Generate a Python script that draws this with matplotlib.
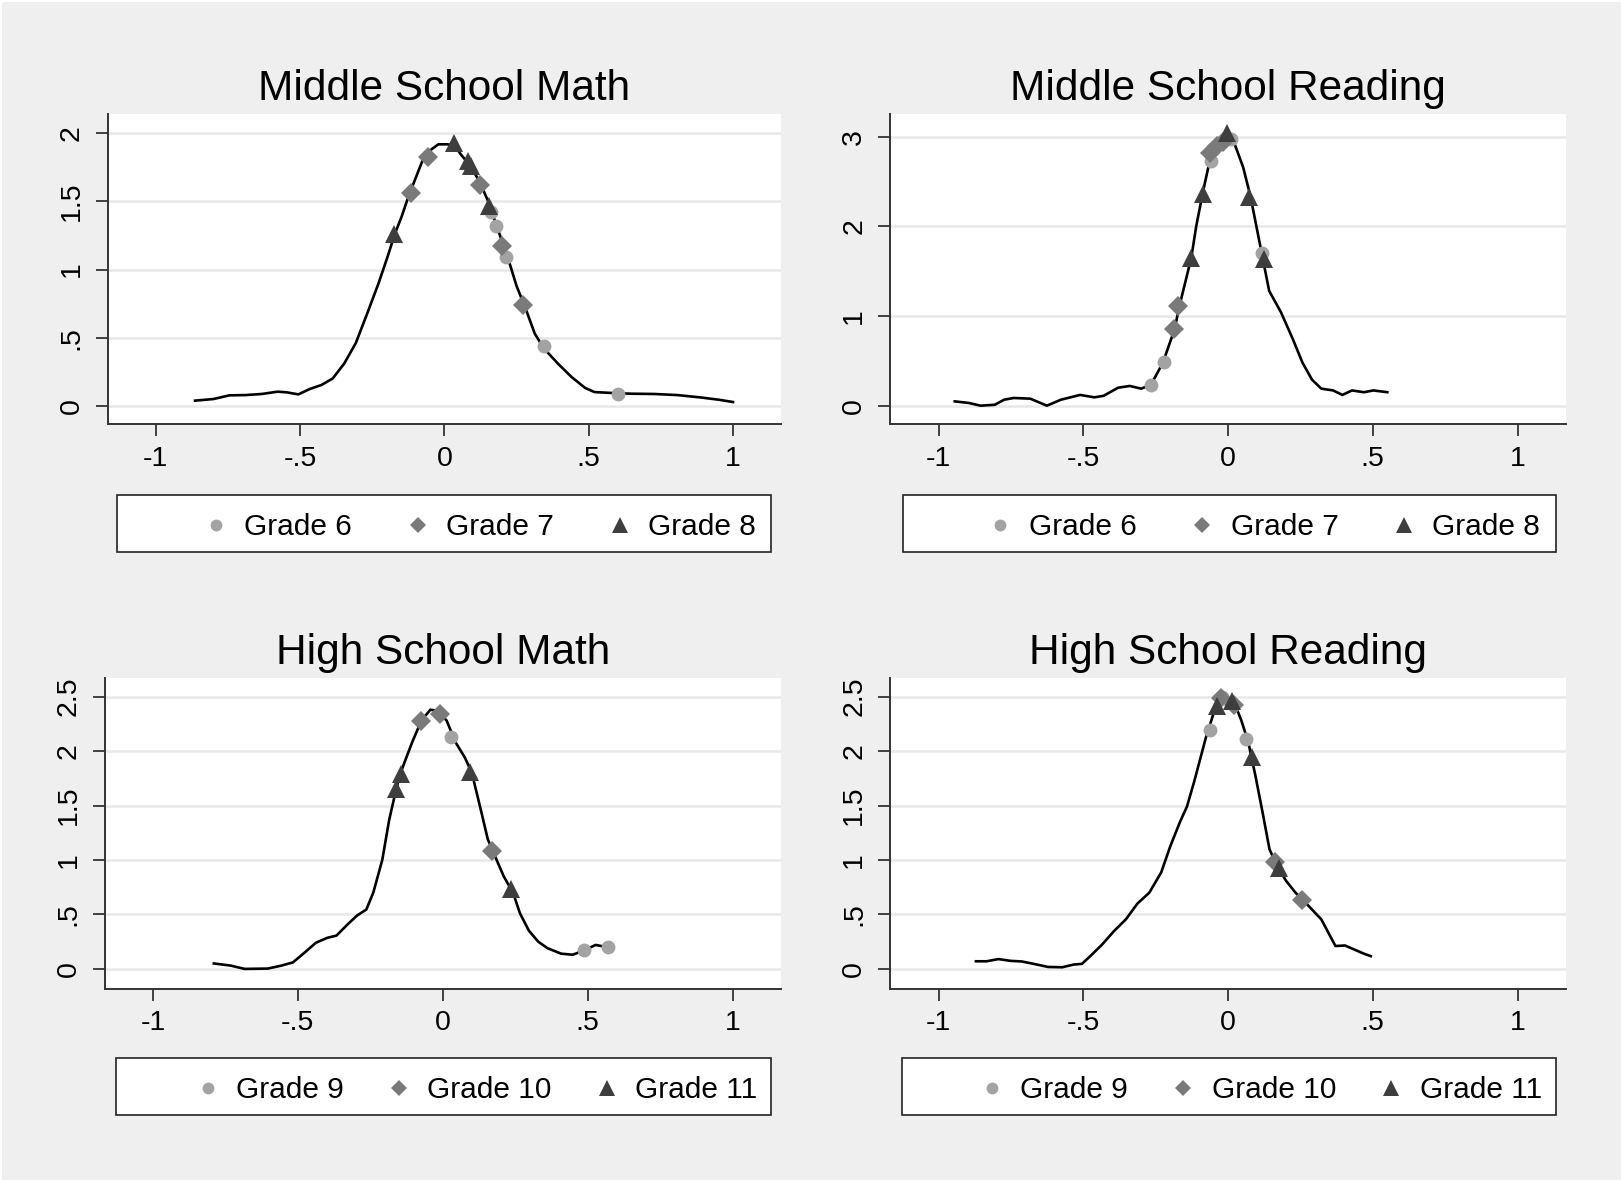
import matplotlib.pyplot as plt
from matplotlib.lines import Line2D
from matplotlib.patches import Rectangle

plt.rcParams["font.family"] = ["Liberation Sans", "DejaVu Sans"]

# --- Middle School Math (density curve + grade markers) ---
msm_x = [-0.864, -0.80, -0.745, -0.689, -0.633, -0.578, -0.546, -0.506, -0.466, -0.426,
         -0.387, -0.347, -0.307, -0.267, -0.228, -0.196, -0.172, -0.148, -0.124, -0.10,
         -0.076, -0.053, -0.021, 0.011, 0.035, 0.059, 0.091, 0.123, 0.154, 0.186,
         0.218, 0.25, 0.282, 0.313, 0.345, 0.393, 0.441, 0.488, 0.52, 0.584,
         0.648, 0.727, 0.807, 0.886, 0.95, 1.0]
msm_y = [0.037, 0.049, 0.076, 0.078, 0.086, 0.103, 0.098, 0.083, 0.123, 0.152,
         0.20, 0.31, 0.46, 0.68, 0.90, 1.10, 1.26, 1.39, 1.54, 1.67,
         1.80, 1.87, 1.92, 1.92, 1.91, 1.84, 1.76, 1.64, 1.49, 1.29,
         1.10, 0.88, 0.71, 0.53, 0.42, 0.31, 0.21, 0.13, 0.10, 0.093,
         0.088, 0.086, 0.078, 0.061, 0.044, 0.027]
msm_g6_x = [0.162, 0.178, 0.215, 0.345, 0.60]
msm_g6_y = [1.42, 1.32, 1.09, 0.44, 0.088]
msm_g7_x = [-0.116, -0.056, 0.123, 0.199, 0.274]
msm_g7_y = [1.56, 1.83, 1.62, 1.17, 0.74]
msm_g8_x = [-0.175, 0.032, 0.083, 0.091, 0.154]
msm_g8_y = [1.26, 1.93, 1.80, 1.76, 1.47]

# --- Middle School Reading ---
msr_x = [-0.944, -0.895, -0.855, -0.806, -0.773, -0.74, -0.683, -0.626, -0.577, -0.511,
         -0.462, -0.43, -0.38, -0.34, -0.30, -0.266, -0.225, -0.185, -0.168, -0.127,
         -0.11, -0.087, -0.062, -0.038, -0.005, 0.02, 0.052, 0.077, 0.093, 0.118,
         0.142, 0.183, 0.224, 0.257, 0.29, 0.322, 0.363, 0.395, 0.428, 0.469,
         0.502, 0.55]
msr_y = [0.048, 0.03, 0.0, 0.01, 0.067, 0.086, 0.078, 0.0, 0.067, 0.12,
         0.093, 0.11, 0.20, 0.22, 0.19, 0.235, 0.48, 0.85, 1.11, 1.65,
         2.0, 2.38, 2.75, 2.90, 3.01, 2.94, 2.66, 2.34, 2.08, 1.67,
         1.28, 1.04, 0.74, 0.48, 0.29, 0.19, 0.17, 0.12, 0.17, 0.15,
         0.17, 0.15]
msr_g6_x = [-0.266, -0.222, -0.059, -0.02, 0.011, 0.118]
msr_g6_y = [0.235, 0.49, 2.73, 2.94, 2.97, 1.70]
msr_g7_x = [-0.188, -0.172, -0.062, -0.038, -0.018]
msr_g7_y = [0.86, 1.11, 2.82, 2.90, 2.94]
msr_g8_x = [-0.127, -0.087, -0.002, 0.074, 0.123]
msr_g8_y = [1.65, 2.36, 3.04, 2.33, 1.64]

# --- High School Math ---
hsm_x = [-0.79, -0.731, -0.684, -0.604, -0.557, -0.517, -0.478, -0.438, -0.399, -0.367,
         -0.328, -0.296, -0.264, -0.24, -0.209, -0.185, -0.161, -0.146, -0.106, -0.074,
         -0.043, -0.019, 0.013, 0.044, 0.076, 0.10, 0.131, 0.155, 0.179, 0.21,
         0.242, 0.266, 0.297, 0.329, 0.361, 0.408, 0.448, 0.487, 0.527, 0.566]
hsm_y = [0.05, 0.03, 0.0, 0.003, 0.03, 0.06, 0.147, 0.24, 0.285, 0.306,
         0.41, 0.49, 0.545, 0.70, 1.0, 1.37, 1.65, 1.80, 2.08, 2.28,
         2.38, 2.37, 2.28, 2.08, 1.94, 1.80, 1.46, 1.19, 1.04, 0.85,
         0.70, 0.51, 0.35, 0.25, 0.19, 0.14, 0.13, 0.17, 0.22, 0.20]
hsm_g9_x = [0.028, 0.487, 0.571]
hsm_g9_y = [2.13, 0.17, 0.20]
hsm_g10_x = [-0.074, -0.011, 0.171]
hsm_g10_y = [2.28, 2.34, 1.08]
hsm_g11_x = [-0.161, -0.146, 0.095, 0.234]
hsm_g11_y = [1.65, 1.79, 1.81, 0.73]

# --- High School Reading ---
hsr_x = [-0.871, -0.834, -0.793, -0.752, -0.712, -0.671, -0.622, -0.573, -0.533, -0.505,
         -0.476, -0.435, -0.394, -0.353, -0.313, -0.272, -0.231, -0.199, -0.166, -0.142,
         -0.117, -0.093, -0.077, -0.052, -0.028, -0.003, 0.021, 0.046, 0.07, 0.094,
         0.119, 0.143, 0.168, 0.20, 0.233, 0.274, 0.322, 0.347, 0.371, 0.404,
         0.436, 0.469, 0.493]
hsr_y = [0.07, 0.07, 0.09, 0.074, 0.068, 0.046, 0.018, 0.015, 0.04, 0.046,
         0.117, 0.224, 0.347, 0.455, 0.60, 0.70, 0.886, 1.13, 1.35, 1.49,
         1.72, 1.96, 2.12, 2.33, 2.47, 2.48, 2.45, 2.28, 2.08, 1.78,
         1.44, 1.10, 0.95, 0.81, 0.70, 0.59, 0.455, 0.33, 0.21, 0.215,
         0.178, 0.14, 0.117]
hsr_g9_x = [-0.064, -0.02, 0.062]
hsr_g9_y = [2.19, 2.50, 2.11]
hsr_g10_x = [-0.023, 0.021, 0.163, 0.257]
hsr_g10_y = [2.49, 2.42, 0.98, 0.63]
hsr_g11_x = [-0.039, 0.013, 0.081, 0.176]
hsr_g11_y = [2.41, 2.46, 1.95, 0.93]

x_ticks = [-1, -0.5, 0, 0.5, 1]
x_labels = ["-1", "-.5", "0", ".5", "1"]

panels = [
    dict(title="Middle School Math", curve=(msm_x, msm_y),
         groups=[(msm_g6_x, msm_g6_y), (msm_g7_x, msm_g7_y), (msm_g8_x, msm_g8_y)],
         labels=["Grade 6", "Grade 7", "Grade 8"],
         yticks=[0, 0.5, 1, 1.5, 2], ylabels=["0", ".5", "1", "1.5", "2"],
         ylim=(-0.137, 2.144), rect=[0.0663, 0.641, 0.4152, 0.2627],
         box=[0.0721, 0.5333, 0.4031, 0.0481], leg_right=0.4656, colsp=1.7),
    dict(title="Middle School Reading", curve=(msr_x, msr_y),
         groups=[(msr_g6_x, msr_g6_y), (msr_g7_x, msr_g7_y), (msr_g8_x, msr_g8_y)],
         labels=["Grade 6", "Grade 7", "Grade 8"],
         yticks=[0, 1, 2, 3], ylabels=["0", "1", "2", "3"],
         ylim=(-0.208, 3.254), rect=[0.5485, 0.641, 0.4165, 0.2627],
         box=[0.5561, 0.5333, 0.4025, 0.0481], leg_right=0.949, colsp=1.7),
    dict(title="High School Math", curve=(hsm_x, hsm_y),
         groups=[(hsm_g9_x, hsm_g9_y), (hsm_g10_x, hsm_g10_y), (hsm_g11_x, hsm_g11_y)],
         labels=["Grade 9", "Grade 10", "Grade 11"],
         yticks=[0, 0.5, 1, 1.5, 2, 2.5], ylabels=["0", ".5", "1", "1.5", "2", "2.5"],
         ylim=(-0.18, 2.671), rect=[0.0644, 0.1637, 0.4171, 0.2627],
         box=[0.0714, 0.0568, 0.4036, 0.0482], leg_right=0.4668, colsp=1.35),
    dict(title="High School Reading", curve=(hsr_x, hsr_y),
         groups=[(hsr_g9_x, hsr_g9_y), (hsr_g10_x, hsr_g10_y), (hsr_g11_x, hsr_g11_y)],
         labels=["Grade 9", "Grade 10", "Grade 11"],
         yticks=[0, 0.5, 1, 1.5, 2, 2.5], ylabels=["0", ".5", "1", "1.5", "2", "2.5"],
         ylim=(-0.18, 2.671), rect=[0.5485, 0.1637, 0.4165, 0.2627],
         box=[0.5555, 0.0568, 0.4031, 0.0482], leg_right=0.950, colsp=1.35),
]

styles = [
    dict(marker="o", color="#a3a3a3", markersize=10),
    dict(marker="D", color="#7a7a7a", markersize=10),
    dict(marker="^", color="#3e3e3e", markersize=13),
]

fig = plt.figure(figsize=(16.23, 11.82), dpi=100)
fig.patch.set_facecolor("#efefef")
fig.patches.append(Rectangle((0, 0), 1, 1, transform=fig.transFigure, fill=False,
                             edgecolor="white", linewidth=3))

for p in panels:
    ax = fig.add_axes(p["rect"])
    ax.set_facecolor("white")
    for y in p["yticks"]:
        ax.axhline(y, color="#e8e8e8", linewidth=1.8, zorder=0)
    ax.plot(*p["curve"], color="black", linewidth=1.9, zorder=2)
    for (gx, gy), st in zip(p["groups"], styles):
        ax.plot(gx, gy, linestyle="none", markeredgewidth=0, zorder=3,
                marker=st["marker"], color=st["color"], markersize=st["markersize"])

    ax.set_xlim(-1.167, 1.168)
    ax.set_ylim(*p["ylim"])
    ax.set_xticks(x_ticks, x_labels)
    ax.set_yticks(p["yticks"], p["ylabels"], rotation=90, va="center")
    ax.tick_params(labelsize=20.5, length=8.5, width=1.3, color="#333333", pad=7)
    ax.tick_params(axis="y", pad=8)
    for side in ("top", "right"):
        ax.spines[side].set_visible(False)
    for side in ("left", "bottom"):
        ax.spines[side].set_color("#333333")
        ax.spines[side].set_linewidth(1.4)
    ax.set_title(p["title"], fontsize=30.5, pad=10)

    bx, by, bw, bh = p["box"]
    fig.patches.append(Rectangle((bx, by), bw, bh, transform=fig.transFigure,
                                 facecolor="white", edgecolor="#222222", linewidth=1.2))
    handles = [Line2D([], [], linestyle="none", markeredgewidth=0, marker=st["marker"],
                      color=st["color"], markersize=st["markersize"] * 0.85)
               for st in styles]
    fig.legend(handles, p["labels"], loc="center right", ncol=3, frameon=False,
               bbox_to_anchor=(p["leg_right"], by + bh / 2 - 0.0032), fontsize=21.5,
               handlelength=1.0, handletextpad=0.45, columnspacing=p["colsp"],
               borderpad=0, borderaxespad=0)

fig.savefig("out.png", dpi=100, facecolor=fig.get_facecolor())
